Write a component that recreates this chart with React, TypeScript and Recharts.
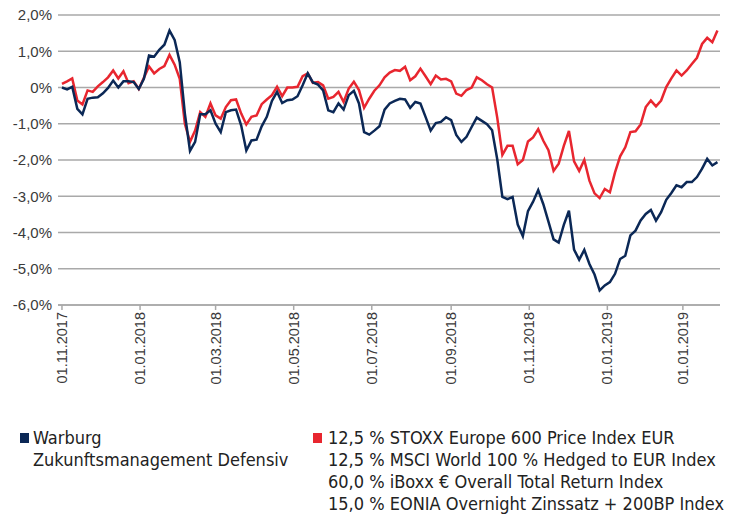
import React from 'react';
import { CartesianGrid, Line, LineChart, XAxis, YAxis } from 'recharts';

// one value every 4 days, starting 01.11.2017
const stepDays = 4;

const warburg = [
  0.0, -0.05, 0.02, -0.59, -0.74, -0.31, -0.28, -0.27, -0.16, -0.01,
  0.19, 0.0, 0.17, 0.17, 0.15, -0.04, 0.24, 0.88, 0.85, 1.04,
  1.18, 1.57, 1.31, 0.7, -0.72, -1.75, -1.5, -0.74, -0.74, -0.63,
  -1.0, -1.23, -0.68, -0.63, -0.61, -1.05, -1.74, -1.46, -1.44, -1.07,
  -0.81, -0.37, -0.12, -0.43, -0.35, -0.33, -0.24, 0.06, 0.39, 0.14,
  0.08, -0.08, -0.63, -0.68, -0.44, -0.61, -0.21, -0.09, -0.44, -1.23,
  -1.3, -1.19, -1.07, -0.61, -0.44, -0.37, -0.31, -0.33, -0.56, -0.4,
  -0.44, -0.81, -1.19, -0.98, -0.95, -0.82, -0.9, -1.31, -1.5, -1.36,
  -1.09, -0.83, -0.92, -1.01, -1.18, -1.98, -3.02, -3.08, -3.02, -3.78,
  -4.1, -3.41, -3.15, -2.83, -3.22, -3.7, -4.19, -4.28, -3.79, -3.4,
  -4.47, -4.75, -4.48, -4.87, -5.16, -5.6, -5.46, -5.37, -5.14, -4.73,
  -4.64, -4.08, -3.95, -3.67, -3.49, -3.38, -3.67, -3.44, -3.1, -2.91,
  -2.7, -2.75, -2.61, -2.61, -2.47, -2.24, -1.97, -2.15, -2.06,
];

const benchmark = [
  0.1, 0.17, 0.25, -0.36, -0.47, -0.08, -0.12, 0.03, 0.15, 0.28,
  0.47, 0.25, 0.45, 0.12, 0.17, -0.04, 0.27, 0.58, 0.39, 0.51,
  0.59, 0.9, 0.63, 0.24, -1.0, -1.5, -1.19, -0.68, -0.81, -0.44,
  -0.77, -0.86, -0.54, -0.35, -0.33, -0.72, -1.02, -0.81, -0.77, -0.46,
  -0.33, -0.21, 0.02, -0.24, 0.0, 0.0, 0.02, 0.31, 0.39, 0.13,
  0.15, 0.06, -0.31, -0.26, -0.12, -0.4, -0.03, 0.16, -0.07, -0.56,
  -0.31, -0.09, 0.06, 0.28, 0.41, 0.48, 0.46, 0.57, 0.2, 0.31,
  0.52, 0.31, 0.09, 0.33, 0.22, 0.24, 0.17, -0.17, -0.23, -0.07,
  0.0, 0.28, 0.2, 0.09, 0.0, -0.83, -1.86, -1.61, -1.61, -2.12,
  -2.0, -1.49, -1.38, -1.15, -1.47, -1.73, -2.3, -2.1, -1.61, -1.2,
  -2.04, -2.3, -2.0, -2.57, -2.92, -3.05, -2.8, -2.89, -2.34, -1.9,
  -1.65, -1.23, -1.21, -1.02, -0.54, -0.36, -0.52, -0.36, 0.01, 0.25,
  0.47, 0.33, 0.47, 0.65, 0.82, 1.2, 1.37, 1.25, 1.57,
];

// days after 01.11.2017 and their labels
const tickDays = [0, 61, 120, 181, 242, 304, 365, 426, 485];
const tickLabels = [
  '01.11.2017', '01.01.2018', '01.03.2018', '01.05.2018', '01.07.2018',
  '01.09.2018', '01.11.2018', '01.01.2019', '01.01.2019',
];

const yTicks = [-6, -5, -4, -3, -2, -1, 0, 1, 2];

const legendLeft = ['Warburg', 'Zukunftsmanagement Defensiv'];
const legendRight = [
  '12,5 % STOXX Europe 600 Price Index EUR',
  '12,5 % MSCI World 100 % Hedged to EUR Index',
  '60,0 % iBoxx € Overall Total Return Index',
  '15,0 % EONIA Overnight Zinssatz + 200BP Index',
];

const NAVY = '#0b2856';
const RED = '#e8262f';
const GRID = '#a9a9a9';
const TEXT = '#3a3a3a';

const data = warburg.map((w, i) => ({ day: i * stepDays, warburg: w, benchmark: benchmark[i] }));

const formatPct = (v: number) => (v === 0 ? '0%' : `${v.toFixed(1).replace('.', ',')}%`);

const DateTick = (props: any) => {
  const { x, y, payload } = props;
  const idx = tickDays.indexOf(payload.value);
  return (
    <g transform={`translate(${x},${y})`}>
      <text
        x={0}
        y={0}
        dy={5}
        transform="rotate(-90)"
        textAnchor="end"
        fill={TEXT}
        fontSize={14.5}
        fontFamily="'Liberation Sans', Arial, sans-serif"
      >
        {tickLabels[idx]}
      </text>
    </g>
  );
};

const legendFont = "'Liberation Sans Narrow', 'DejaVu Sans Condensed', 'Roboto', sans-serif";

const App: React.FC = () => {
  return (
    <div style={{ position: 'absolute', left: 0, top: 0, width: 736, height: 515, background: '#fff' }}>
      <LineChart width={736} height={400} data={data} margin={{ top: 15, right: 16, left: 0, bottom: 0 }}>
        <CartesianGrid vertical={false} stroke={GRID} strokeWidth={1.5} />
        <XAxis
          dataKey="day"
          type="number"
          domain={[-3.1, 514]}
          ticks={tickDays}
          tick={<DateTick />}
          tickSize={5}
          tickMargin={2}
          height={95}
          interval={0}
          stroke={GRID}
          strokeWidth={1.5}
          allowDataOverflow
        />
        <YAxis
          type="number"
          domain={[-6, 2]}
          ticks={yTicks}
          tickFormatter={formatPct}
          axisLine={false}
          tickLine={false}
          tickMargin={0}
          width={58}
          tick={{ fill: TEXT, fontSize: 15, fontFamily: "'Liberation Sans', Arial, sans-serif" }}
        />
        <Line dataKey="benchmark" type="linear" stroke={RED} strokeWidth={2.5} dot={false} isAnimationActive={false} />
        <Line dataKey="warburg" type="linear" stroke={NAVY} strokeWidth={2.5} dot={false} isAnimationActive={false} />
      </LineChart>
      <div style={{ position: 'absolute', left: 20, top: 427, fontFamily: legendFont, fontSize: 18, lineHeight: '22px', color: '#222' }}>
        <span style={{ position: 'absolute', left: 0, top: 6, width: 9, height: 10, background: NAVY }} />
        <div style={{ marginLeft: 13, whiteSpace: 'nowrap' }}>
          {legendLeft.map((t) => (
            <div key={t}>{t}</div>
          ))}
        </div>
      </div>
      <div style={{ position: 'absolute', left: 313, top: 427, fontFamily: legendFont, fontSize: 18, lineHeight: '22px', color: '#222' }}>
        <span style={{ position: 'absolute', left: 0, top: 6, width: 9, height: 10, background: RED }} />
        <div style={{ marginLeft: 15, whiteSpace: 'nowrap' }}>
          {legendRight.map((t, i) => (
            <div key={i}>{t}</div>
          ))}
        </div>
      </div>
    </div>
  );
};

export default App;
